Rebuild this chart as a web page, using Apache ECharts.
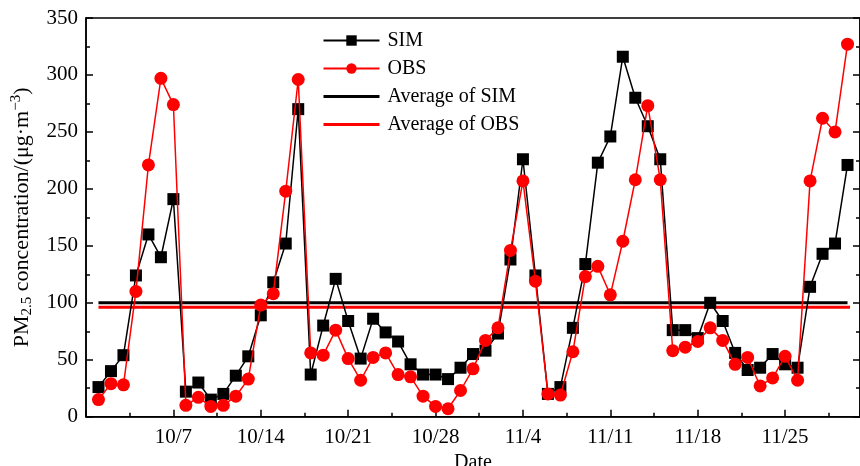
<!DOCTYPE html>
<html><head><meta charset="utf-8">
<script src="https://cdn.jsdelivr.net/npm/echarts@6/dist/echarts.min.js"></script>
<style>html,body{margin:0;padding:0;background:#fff}#c{width:860px;height:466px}</style>
</head><body><div id="c"></div>
<script>
// day number: 10/1 = 1 ... 11/30 = 61
const days = Array.from({length: 61}, (_, i) => i + 1);
const simValues = [26,40,54,124,160,140,191,22,30,15,20,36,53,89,118,152,270,37,80,121,84,51,86,74,66,46,37,37,33,43,55,
  58,73,138,226,124,20,26,78,134,223,246,316,280,255,226,76,76,69,100,84,56,41,43,55,46,43,114,143,152,221];
const obsValues = [15,29,28,110,221,297,274,10,17,9,10,18,33,98,108,198,296,56,54,76,51,32,52,56,37,35,18,9,7,23,42,
  67,78,146,207,119,20,19,57,123,132,107,154,208,273,208,58,61,66,78,67,46,52,27,34,53,32,207,262,250,327];
const avgSim = 100;
const avgObs = 96;
const tickValues = [7,14,21,28,35,42,49,56];
const tickLabels = ['10/7','10/14','10/21','10/28','11/4','11/11','11/18','11/25'];
const seriesNames = ['SIM','OBS','Average of SIM','Average of OBS'];

const font = 'Liberation Serif';
const chart = echarts.init(document.getElementById('c'), null, {renderer: 'canvas'});
const axisLine = {lineStyle: {color: '#000', width: 1.5}};
chart.setOption({
  animation: false,
  backgroundColor: '#fff',
  grid: {left: 86, top: 18, width: 774, height: 398.7, show: true, borderColor: '#000', borderWidth: 1.5,
    containLabel: false, outerBoundsMode: 'none'},
  legend: {
    data: [
      {name: seriesNames[0]},
      {name: seriesNames[1]},
      {name: seriesNames[2], itemStyle: {opacity: 0}, lineStyle: {width: 3}},
      {name: seriesNames[3], itemStyle: {opacity: 0}, lineStyle: {width: 3}}
    ],
    orient: 'vertical', left: 317, top: 25,
    itemWidth: 56, itemHeight: 13, itemGap: 7,
    textStyle: {fontFamily: font, fontSize: 20, color: '#000', lineHeight: 21, padding: [0, 0, 0, 3]}
  },
  xAxis: {
    type: 'value', min: 0, max: 62, interval: 7,
    name: 'Date', nameLocation: 'middle', nameGap: 31,
    nameTextStyle: {fontFamily: font, fontSize: 20, color: '#000'},
    axisLine: axisLine,
    axisTick: {inside: true, length: 7, lineStyle: {color: '#000', width: 1.5}},
    minorTick: {show: true, splitNumber: 2, length: 4, lineStyle: {color: '#000', width: 1.5}},
    splitLine: {show: false},
    axisLabel: {fontFamily: font, fontSize: 21, color: '#000', margin: 10,
      formatter: v => { const i = tickValues.indexOf(v); return i >= 0 ? tickLabels[i] : ''; }}
  },
  yAxis: [{
    type: 'value', min: 0, max: 350, interval: 50,
    name: '{a|PM}{s|2.5}{a| concentration/(μg·m}{p|−3}{a|)}',
    nameLocation: 'middle', nameGap: 51, nameRotate: 90,
    nameTextStyle: {fontFamily: font, fontSize: 22, color: '#000',
      rich: {
        a: {fontFamily: font, fontSize: 22, color: '#000', lineHeight: 26},
        s: {fontFamily: font, fontSize: 15, color: '#000', lineHeight: 8, verticalAlign: 'bottom'},
        p: {fontFamily: font, fontSize: 15, color: '#000', lineHeight: 10, verticalAlign: 'top'}
      }},
    axisLine: axisLine,
    axisTick: {inside: true, length: 7, lineStyle: {color: '#000', width: 1.5}},
    minorTick: {show: true, splitNumber: 2, length: 4, lineStyle: {color: '#000', width: 1.5}},
    splitLine: {show: false},
    axisLabel: {fontFamily: font, fontSize: 21, color: '#000', margin: 8}
  }, {
    type: 'value', min: 0, max: 350, interval: 50, position: 'right',
    axisLine: axisLine,
    axisTick: {inside: true, length: 7, lineStyle: {color: '#000', width: 1.5}},
    minorTick: {show: true, splitNumber: 2, length: 4, lineStyle: {color: '#000', width: 1.5}},
    splitLine: {show: false}, axisLabel: {show: false}
  }],
  series: [
    {name: seriesNames[2], type: 'line', symbol: 'none', z: 1,
      data: [[days[0], avgSim], [days[days.length-1], avgSim]],
      lineStyle: {color: '#000', width: 3}, itemStyle: {color: '#000'}},
    {name: seriesNames[3], type: 'line', symbol: 'none', z: 1,
      data: [[days[0], avgObs], [days[days.length-1] + 0.2, avgObs]],
      lineStyle: {color: '#ff0000', width: 3}, itemStyle: {color: '#ff0000'}},
    {name: seriesNames[0], type: 'line', symbol: 'rect', symbolSize: 12, z: 3,
      data: days.map((d, i) => [d, simValues[i]]),
      lineStyle: {color: '#000', width: 1.5}, itemStyle: {color: '#000'}},
    {name: seriesNames[1], type: 'line', symbol: 'circle', symbolSize: 13, z: 4,
      data: days.map((d, i) => [d, obsValues[i]]),
      lineStyle: {color: '#ff0000', width: 1.5}, itemStyle: {color: '#ff0000'}}
  ]
});
</script></body></html>
